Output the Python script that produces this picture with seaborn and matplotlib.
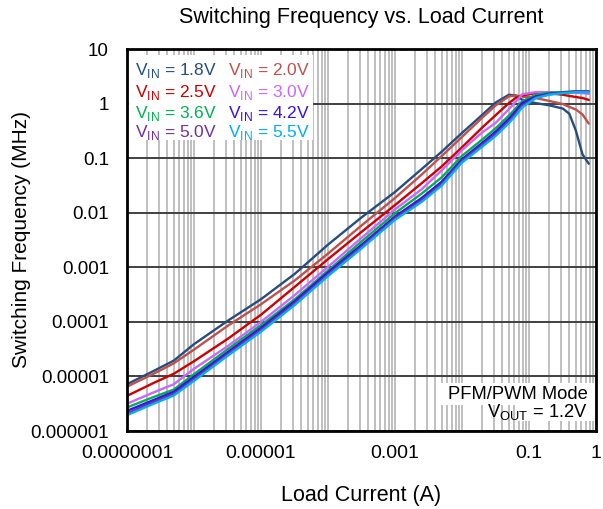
import matplotlib
matplotlib.use("Agg")
import matplotlib.pyplot as plt
import seaborn as sns
import pandas as pd
from matplotlib.ticker import FixedLocator, FixedFormatter, NullFormatter
from matplotlib.patches import Rectangle

# ---------------- data ----------------
load_current_a = [1e-7, 2.5e-7, 5e-7, 1e-6, 3.2e-6, 1e-5, 3.2e-5, 1e-4, 3.2e-4,
                  1e-3, 2.5e-3, 5e-3, 0.01, 0.02, 0.032, 0.05, 0.063, 0.079,
                  0.126, 0.2, 0.32, 0.4, 0.5, 0.63, 0.78]

vin_labels = ["1.8V", "2.0V", "2.5V", "3.0V", "3.6V", "4.2V", "5.0V", "5.5V"]

freq_vin_1p8 = [7.2e-6, 1.26e-5, 1.95e-5, 3.9e-5, 1.05e-4, 2.6e-4, 7.6e-4, 2.6e-3, 8.3e-3,
                0.024, 0.063, 0.132, 0.29, 0.62, 1.05, 1.45, 1.41, 1.17,
                1.02, 0.93, 0.81, 0.65, 0.32, 0.117, 0.079]
freq_vin_2p0 = [6.5e-6, 1.12e-5, 1.74e-5, 3.1e-5, 8.5e-5, 2.1e-4, 5.75e-4, 1.78e-3, 5.9e-3,
                0.0186, 0.050, 0.110, 0.245, 0.55, 0.93, 1.35, 1.41, 1.35,
                1.26, 1.12, 0.98, 0.87, 0.78, 0.63, 0.43]
freq_vin_2p5 = [4.4e-6, 7.6e-6, 1.12e-5, 1.9e-5, 4.9e-5, 1.35e-4, 4.4e-4, 1.41e-3, 4.5e-3,
                0.0138, 0.0347, 0.0708, 0.158, 0.363, 0.617, 1.02, 1.26, 1.41,
                1.55, 1.55, 1.45, 1.38, 1.32, 1.26, 1.17]
freq_vin_3p0 = [3.16e-6, 5.1e-6, 7.2e-6, 1.38e-5, 3.6e-5, 1.0e-4, 3.1e-4, 1.02e-3, 3.5e-3,
                0.0115, 0.0269, 0.060, 0.141, 0.295, 0.447, 0.79, 1.07, 1.48,
                1.62, 1.62, 1.62, 1.62, 1.58, 1.55, 1.51]
freq_vin_3p6 = [2.7e-6, 4.2e-6, 5.75e-6, 1.10e-5, 3.16e-5, 8.7e-5, 2.6e-4, 8.7e-4, 3.0e-3,
                9.8e-3, 0.0224, 0.0447, 0.110, 0.219, 0.355, 0.60, 0.81, 1.10,
                1.45, 1.58, 1.62, 1.66, 1.66, 1.66, 1.66]
freq_vin_4p2 = [2.34e-6, 3.7e-6, 5.25e-6, 9.8e-6, 2.8e-5, 7.8e-5, 2.4e-4, 8.1e-4, 2.6e-3,
                8.5e-3, 0.0186, 0.0372, 0.0955, 0.19, 0.309, 0.525, 0.72, 1.02,
                1.35, 1.51, 1.58, 1.62, 1.66, 1.66, 1.66]
freq_vin_5p0 = [2.1e-6, 3.4e-6, 4.8e-6, 8.9e-6, 2.57e-5, 7.1e-5, 2.2e-4, 7.4e-4, 2.4e-3,
                7.9e-3, 0.017, 0.0339, 0.089, 0.174, 0.275, 0.468, 0.646, 0.912,
                1.29, 1.48, 1.58, 1.62, 1.66, 1.66, 1.66]
freq_vin_5p5 = [1.95e-6, 3.16e-6, 4.47e-6, 8.3e-6, 2.4e-5, 6.6e-5, 2.04e-4, 6.9e-4, 2.24e-3,
                7.4e-3, 0.0158, 0.0316, 0.083, 0.162, 0.257, 0.437, 0.60, 0.85,
                1.26, 1.45, 1.55, 1.58, 1.62, 1.62, 1.62]

series_colors = ["#254E7F", "#C0504D", "#CC0000", "#CC66FF",
                 "#00B050", "#3311EE", "#7030A0", "#00B0F0"]

x_tick_values = [1e-7, 1e-6, 1e-5, 1e-4, 1e-3, 1e-2, 1e-1, 1.0]
x_tick_labels = ["0.0000001", "", "0.00001", "", "0.001", "", "0.1", "1"]
y_tick_values = [1e-6, 1e-5, 1e-4, 1e-3, 1e-2, 1e-1, 1.0, 10.0]
y_tick_labels = ["0.000001", "0.00001", "0.0001", "0.001", "0.01", "0.1", "1", "10"]

# ---------------- build table ----------------
all_series = [freq_vin_1p8, freq_vin_2p0, freq_vin_2p5, freq_vin_3p0,
              freq_vin_3p6, freq_vin_4p2, freq_vin_5p0, freq_vin_5p5]
rows = []
for lab, ser in zip(vin_labels, all_series):
    for xv, yv in zip(load_current_a, ser):
        rows.append({"current": xv, "freq": yv, "vin": lab})
df = pd.DataFrame(rows)

sns.set_theme(style="white")
plt.rcParams["font.family"] = ["Liberation Sans", "DejaVu Sans"]

fig = plt.figure(figsize=(6.03, 5.09), dpi=100)
ax = fig.add_axes([127 / 603, 78 / 509, 469 / 603, 382 / 509])

sns.lineplot(data=df, x="current", y="freq", hue="vin", hue_order=vin_labels,
             palette=dict(zip(vin_labels, series_colors)), estimator=None,
             sort=False, linewidth=1.7, ax=ax, legend=False, zorder=3)

ax.set_xscale("log")
ax.set_yscale("log")
ax.set_xlim(1e-7, 1)
ax.set_ylim(1e-6, 10)

# grid
minor_x = [m * 10.0 ** e for e in range(-7, 0) for m in range(2, 10)]
ax.xaxis.set_major_locator(FixedLocator(x_tick_values))
ax.xaxis.set_major_formatter(FixedFormatter(x_tick_labels))
ax.xaxis.set_minor_locator(FixedLocator(minor_x))
ax.xaxis.set_minor_formatter(NullFormatter())
ax.yaxis.set_major_locator(FixedLocator(y_tick_values))
ax.yaxis.set_major_formatter(FixedFormatter(y_tick_labels))
ax.yaxis.set_minor_locator(FixedLocator([]))
ax.grid(False)
ax.grid(True, which="both", axis="x", color="#BFBFBF", linewidth=1.4, zorder=0)
ax.grid(True, which="major", axis="y", color="#404040", linewidth=1.4, zorder=1)
ax.set_axisbelow(True)

ax.tick_params(axis="both", which="both", length=0, labelsize=13.5, colors="black")
ax.tick_params(axis="x", labelsize=14, pad=10)
ax.tick_params(axis="y", pad=13)
for sp in ax.spines.values():
    sp.set_color("black")
    sp.set_linewidth(2.0)
    sp.set_zorder(5)

ax.set_xlabel("")
ax.set_ylabel("")
fig.text(361 / 603, 1 - 495 / 509, "Load Current (A)", ha="center", va="center",
         fontsize=15.5, color="black")
fig.text(22 / 603, 1 - 240 / 509, "Switching Frequency (MHz)", ha="center",
         va="center", rotation=90, fontsize=15, color="black")
fig.text(361 / 603, 1 - 18 / 509, "Switching Frequency vs. Load Current",
         ha="center", va="center", fontsize=15.5, color="black")

# legend block (text coloured like the series)
ax.add_patch(Rectangle((0.004, 0.762), 0.392, 0.222, transform=ax.transAxes,
                       facecolor="white", edgecolor="none", zorder=2))
order_rows = [(0, 1), (2, 3), (4, 5), (6, 7)]
baselines = [0.932, 0.875, 0.8186, 0.769]
col_x = [0.017, 0.215]
for (i, j), yb in zip(order_rows, baselines):
    for k, cx in zip((i, j), col_x):
        ax.text(cx, yb, r"V$_{\mathregular{IN}}$ = " + vin_labels[k],
                transform=ax.transAxes, ha="left", va="baseline",
                fontsize=12.5, color=series_colors[k], zorder=6)

# mode annotation with white background patches
ax.add_patch(Rectangle((0.667, 0.068), 0.33, 0.058, transform=ax.transAxes,
                       facecolor="white", edgecolor="none", zorder=2))
ax.add_patch(Rectangle((0.827, 0.026), 0.17, 0.042, transform=ax.transAxes,
                       facecolor="white", edgecolor="none", zorder=2))
ax.text(0.983, 0.083, "PFM/PWM Mode", transform=ax.transAxes, ha="right",
        va="baseline", fontsize=13.2, color="black", zorder=6)
ax.text(0.983, 0.0366, r"V$_{\mathregular{OUT}}$ = 1.2V", transform=ax.transAxes,
        ha="right", va="baseline", fontsize=13.2, color="black", zorder=6)

fig.savefig("out.png", dpi=100, facecolor="white")
